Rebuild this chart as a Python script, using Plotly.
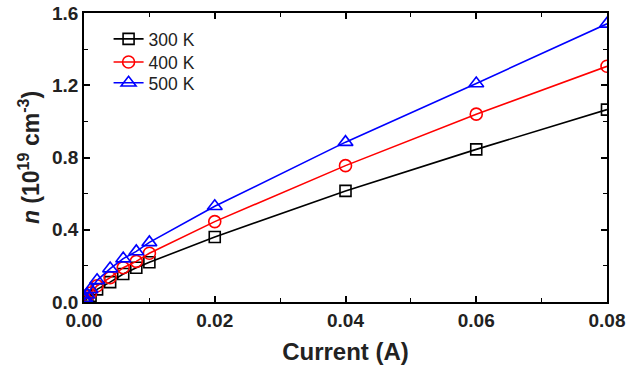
import plotly.graph_objects as go

current = [0.0001, 0.0002, 0.0005, 0.001, 0.002, 0.004, 0.006, 0.008, 0.01, 0.02, 0.04, 0.06, 0.08]
n_300K = [0.005, 0.01, 0.02, 0.035, 0.07, 0.11, 0.155, 0.19, 0.22, 0.36, 0.615, 0.845, 1.065]
n_400K = [0.007, 0.014, 0.03, 0.05, 0.09, 0.135, 0.19, 0.225, 0.27, 0.445, 0.755, 1.04, 1.305]
n_500K = [0.01, 0.02, 0.04, 0.07, 0.12, 0.185, 0.24, 0.28, 0.33, 0.53, 0.885, 1.21, 1.54]

series = [
    ("300 K", n_300K, "black", "square-open", 11, "legend"),
    ("400 K", n_400K, "red", "circle-open", 12, "legend2"),
    ("500 K", n_500K, "blue", "triangle-up-open", 13, "legend3"),
]

fig = go.Figure()
for name, ys, col, sym, sz, lg in series:
    fig.add_trace(go.Scatter(
        x=current, y=ys, name=name, mode="lines+markers", legend=lg,
        line=dict(color=col, width=1.6),
        marker=dict(symbol=sym, size=sz, color=col, line=dict(width=1.6, color=col)),
    ))

tickfont = dict(family="Liberation Sans, Arial", size=19, color="#222", weight="bold")
axis_common = dict(
    showline=True, linecolor="black", linewidth=1.5, mirror="allticks",
    ticks="inside", ticklen=6, tickwidth=1.5, tickcolor="black",
    showgrid=False, zeroline=False, automargin=False, ticklabeloverflow="allow",
    tickfont=tickfont,
)

fig.update_xaxes(
    range=[0, 0.08], tickvals=[0, 0.02, 0.04, 0.06, 0.08], tickformat=".2f",
    minor=dict(ticks="inside", ticklen=4, tickwidth=1.2, tickcolor="black", dtick=0.01, showgrid=False),
    title=dict(text="<b>Current (A)</b>", font=dict(family="Liberation Sans, Arial", size=24, color="#222"), standoff=14),
    **axis_common,
)
fig.update_yaxes(
    range=[0, 1.6], tickvals=[0, 0.4, 0.8, 1.2, 1.6], tickformat=".1f",
    minor=dict(ticks="inside", ticklen=4, tickwidth=1.2, tickcolor="black", dtick=0.2, showgrid=False),
    title=dict(text="<b><i>n</i> (10<sup>19</sup> cm<sup>-3</sup>)</b>", font=dict(family="Liberation Sans, Arial", size=23, color="#222"), standoff=6),
    **axis_common,
)

leg_common = dict(x=0.047, xanchor="left", yanchor="middle", bgcolor="rgba(0,0,0,0)",
                  font=dict(size=17.5, color="#222"), itemwidth=30)
fig.update_layout(
    width=630, height=371,
    margin=dict(l=84, r=23, t=13, b=69),
    plot_bgcolor="white", paper_bgcolor="white",
    font=dict(family="Liberation Sans, Arial", color="#222"),
    legend=dict(y=0.910, **leg_common),
    legend2=dict(y=0.830, **leg_common),
    legend3=dict(y=0.758, **leg_common),
    showlegend=True,
)

fig.write_html("out.html", config={"displayModeBar": False},
               post_script="document.body.style.margin='0';document.body.style.overflow='hidden';")
